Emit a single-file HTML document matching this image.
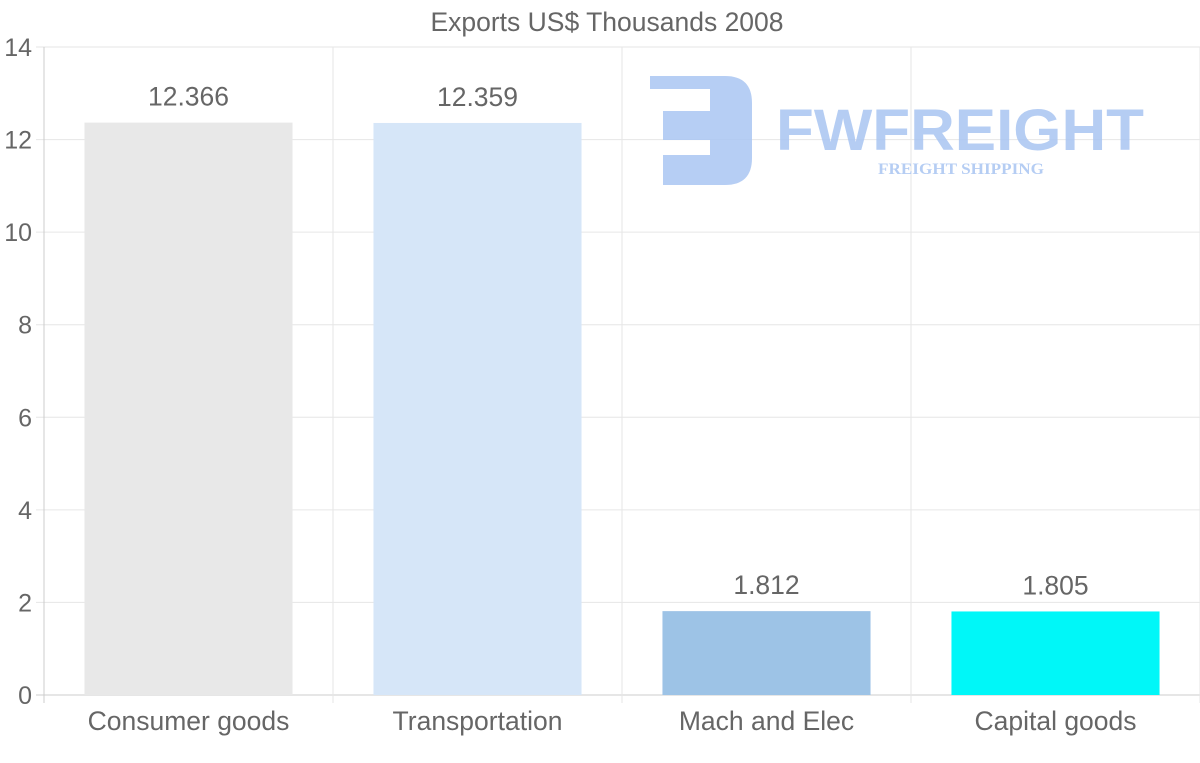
<!DOCTYPE html>
<html><head><meta charset="utf-8"><style>
html,body{margin:0;padding:0;background:#fff;width:1200px;height:763px;overflow:hidden}
svg{display:block;font-family:"Liberation Sans",sans-serif}
</style></head><body>
<svg id="chart" width="1200" height="763">
<text x="607" y="31" text-anchor="middle" font-size="26.5" fill="#666">Exports US$ Thousands 2008</text>
<g id="grid"></g>
<g id="bars"></g>
<g opacity="0.85">
<path d="M650 76 H725 Q752 76 752 103 V158 Q752 185 725 185 H663 V155 H710 V140 H663 V111 H710 V89 H650 Z" fill="#a9c5f2"/>
<text x="960" y="150" text-anchor="middle" font-size="58" font-weight="bold" fill="#a9c5f2" textLength="368" lengthAdjust="spacingAndGlyphs">FWFREIGHT</text>
<text x="961" y="174" text-anchor="middle" font-size="16" font-weight="bold" font-family="Liberation Serif,serif" fill="#a9c5f2" textLength="166" lengthAdjust="spacingAndGlyphs">FREIGHT SHIPPING</text>
</g>
<g id="labels"></g>
</svg>
<script>
const categories=["Consumer goods","Transportation","Mach and Elec","Capital goods"];
const values=[12.366,12.359,1.812,1.805];
const valueLabels=["12.366","12.359","1.812","1.805"];
const colors=["#e8e8e8","#d6e6f8","#9dc3e6","#00f7f8"];
const yTicks=[0,2,4,6,8,10,12,14];
const NS="http://www.w3.org/2000/svg";
const L=44,R=1200,T=47,B=695,yMax=14;
const y=v=>B-(v/yMax)*(B-T);
const bw=(R-L)/categories.length;
const x=i=>L+bw*i;
function mk(tag,attrs,parent){const e=document.createElementNS(NS,tag);for(const k in attrs)e.setAttribute(k,attrs[k]);parent.appendChild(e);return e;}
const grid=document.getElementById('grid'),bars=document.getElementById('bars'),labels=document.getElementById('labels');
yTicks.forEach(t=>{
 const ln=mk('line',{x1:36,x2:R,y1:y(t),y2:y(t),stroke:t===0?'#ccc':'#e6e6e6','stroke-width':1},grid);
 
 
 const tx=mk('text',{x:32,y:y(t)+9,'text-anchor':'end','font-size':25,fill:'#666'},grid);
 tx.textContent=t;
 
 
});
for(let i=0;i<=categories.length;i++){
 const ln=mk('line',{x1:x(i),x2:x(i),y1:T,y2:703,stroke:i===0?'#ccc':'#e6e6e6','stroke-width':1},grid);
 
 
}
categories.forEach((c,i)=>{
 const w=bw*0.72,cx=x(i)+bw/2;
 const r=mk('rect',{x:cx-w/2,y:y(values[i]),width:w,height:B-y(values[i]),fill:colors[i]},bars);
 
 
 const v=mk('text',{x:cx,y:y(values[i])-17,'text-anchor':'middle','font-size':26.5,fill:'#666'},labels);
 v.textContent=valueLabels[i];
 
 
 const t=mk('text',{x:cx,y:730,'text-anchor':'middle','font-size':26.5,fill:'#666'},labels);
 t.textContent=c;
 
 
});
</script>
</body></html>
